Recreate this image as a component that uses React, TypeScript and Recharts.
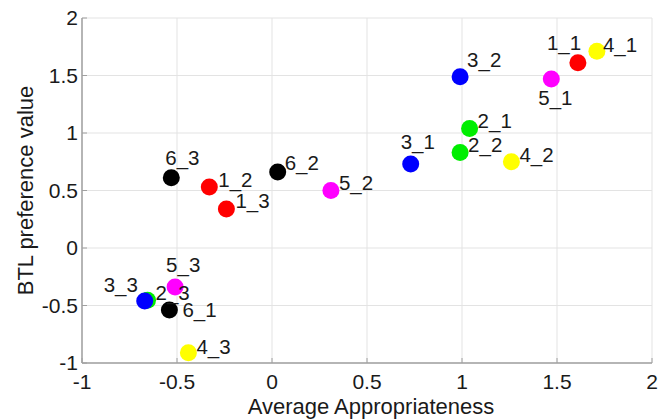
import { ScatterChart, Scatter, XAxis, YAxis, CartesianGrid, LabelList } from 'recharts'

interface Pt {
  name: string
  x: number
  y: number
}

const xTicks = [-1, -0.5, 0, 0.5, 1, 1.5, 2]
const yTicks = [-1, -0.5, 0, 0.5, 1, 1.5, 2]

// one array per group, colour by first digit
const group1: Pt[] = [
  { name: '1_1', x: 1.61, y: 1.61 },
  { name: '1_2', x: -0.33, y: 0.53 },
  { name: '1_3', x: -0.24, y: 0.34 },
]
const group2: Pt[] = [
  { name: '2_1', x: 1.04, y: 1.04 },
  { name: '2_2', x: 0.99, y: 0.83 },
  { name: '2_3', x: -0.655, y: -0.455 },
]
const group3: Pt[] = [
  { name: '3_1', x: 0.73, y: 0.73 },
  { name: '3_2', x: 0.99, y: 1.49 },
  { name: '3_3', x: -0.67, y: -0.46 },
]
const group4: Pt[] = [
  { name: '4_1', x: 1.71, y: 1.71 },
  { name: '4_2', x: 1.26, y: 0.75 },
  { name: '4_3', x: -0.44, y: -0.91 },
]
const group5: Pt[] = [
  { name: '5_1', x: 1.47, y: 1.47 },
  { name: '5_2', x: 0.31, y: 0.5 },
  { name: '5_3', x: -0.51, y: -0.34 },
]
const group6: Pt[] = [
  { name: '6_1', x: -0.54, y: -0.54 },
  { name: '6_2', x: 0.03, y: 0.66 },
  { name: '6_3', x: -0.53, y: 0.61 },
]

const groups = [group1, group2, group3, group4, group5, group6]
const groupColors = ['#ff0000', '#00ee00', '#0000ff', '#ffff00', '#ff00ff', '#000000']

// where each text sits relative to its dot: [dx to text start, dy to text middle]
const labelOffsets: Record<string, [number, number]> = {
  '1_1': [-31, -20],
  '1_2': [9, -7],
  '1_3': [9, -8],
  '2_1': [8, -8],
  '2_2': [8, -8],
  '2_3': [8, -8],
  '3_1': [-10, -22],
  '3_2': [7, -17],
  '3_3': [-41, -16],
  '4_1': [6, -7],
  '4_2': [8, -7],
  '4_3': [8, -6],
  '5_1': [-13, 19],
  '5_2': [8, -8],
  '5_3': [-9, -22],
  '6_1': [13, 0],
  '6_2': [7, -9],
  '6_3': [-6, -20],
}

const FONT = '"Liberation Sans", Arial, Helvetica, sans-serif'
const AXIS = '#a0a0a0'
const LABEL_SIZE = 20.5
const TICK_SIZE = 21

function PointLabel(props: any) {
  const { x, y, width, height, value } = props
  const cx = Number(x) + Number(width || 0) / 2
  const cy = Number(y) + Number(height || 0) / 2
  const [dx, dy] = labelOffsets[value] || [8, -8]
  return (
    <text
      x={cx + dx}
      y={cy + dy + LABEL_SIZE * 0.36}
      fontSize={LABEL_SIZE}
      fill="#1a1a1a"
      fontFamily={FONT}
    >
      {value}
    </text>
  )
}

export default function App() {
  return (
    <div style={{ position: 'absolute', left: 0, top: 0, background: '#fff' }}>
      <ScatterChart
        width={669}
        height={420}
        margin={{ top: 18, right: 17, bottom: 0, left: 0 }}
        style={{ fontFamily: FONT }}
      >
        <CartesianGrid stroke="#e3e3e3" strokeWidth={1} />
        <XAxis
          type="number"
          dataKey="x"
          domain={[-1, 2]}
          ticks={xTicks}
          interval={0}
          allowDataOverflow
          height={57}
          tickSize={-5}
          tickMargin={16}
          axisLine={{ stroke: AXIS, strokeWidth: 1.5 }}
          tickLine={{ stroke: AXIS }}
          tick={{ fontSize: TICK_SIZE, fill: '#1a1a1a' }}
          label={{
            value: 'Average Appropriateness',
            position: 'insideBottom',
            offset: 6,
            dx: 4,
            fontSize: 22,
            fill: '#1a1a1a',
          }}
        />
        <YAxis
          type="number"
          dataKey="y"
          domain={[-1, 2]}
          ticks={yTicks}
          interval={0}
          allowDataOverflow
          width={82}
          tickSize={-5}
          tickMargin={9}
          axisLine={{ stroke: AXIS, strokeWidth: 1.5 }}
          tickLine={{ stroke: AXIS }}
          tick={{ fontSize: TICK_SIZE, fill: '#1a1a1a' }}
          label={{
            value: 'BTL preference value',
            angle: -90,
            position: 'insideLeft',
            offset: 21,
            dx: 4,
            fontSize: 22,
            fill: '#1a1a1a',
            style: { textAnchor: 'middle' },
          }}
        />
        {/* box top and right, ticks inside */}
        <XAxis
          xAxisId="top"
          orientation="top"
          type="number"
          domain={[-1, 2]}
          ticks={xTicks}
          interval={0}
          allowDataOverflow
          mirror
          height={0}
          tick={false}
          tickSize={5}
          axisLine={{ stroke: AXIS, strokeWidth: 1.5 }}
          tickLine={{ stroke: AXIS }}
        />
        <YAxis
          yAxisId="right"
          orientation="right"
          type="number"
          domain={[-1, 2]}
          ticks={yTicks}
          interval={0}
          allowDataOverflow
          mirror
          width={0}
          tick={false}
          tickSize={5}
          axisLine={{ stroke: AXIS, strokeWidth: 1.5 }}
          tickLine={{ stroke: AXIS }}
        />
        {groups.map((g, i) => (
          <Scatter
            key={i}
            data={g}
            fill={groupColors[i]}
            isAnimationActive={false}
            shape={(p: any) => <circle cx={p.cx} cy={p.cy} r={8.5} fill={groupColors[i]} />}
          >
            <LabelList dataKey="name" content={PointLabel} />
          </Scatter>
        ))}
      </ScatterChart>
    </div>
  )
}
